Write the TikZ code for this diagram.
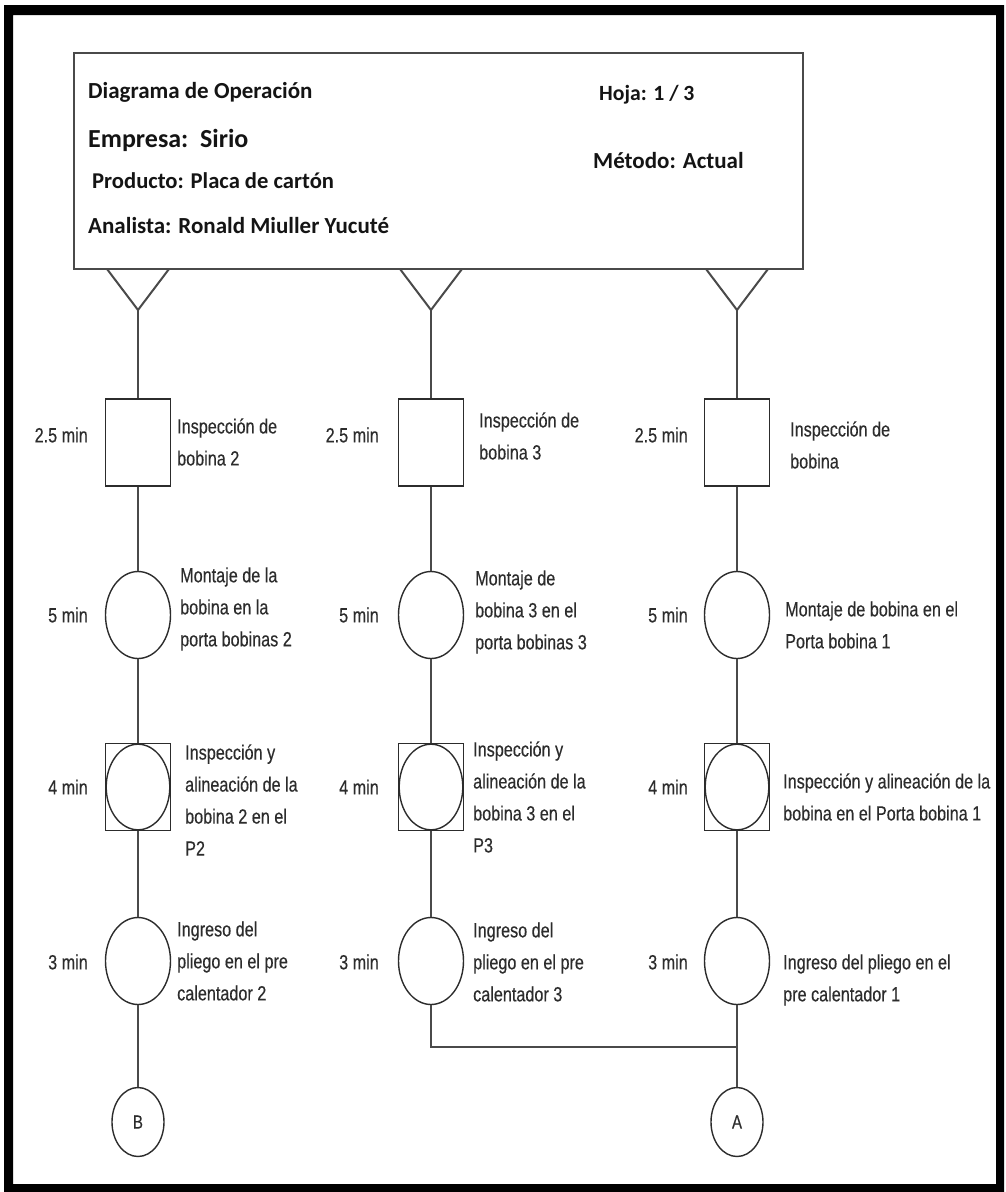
\documentclass[tikz,border=0pt]{standalone}
\usepackage{fontspec}
\setmainfont{Liberation Sans}
\newfontfamily\hdrfont{Carlito}
\newfontfamily\bodyfont[FakeStretch=0.79, FakeBold=0.3]{Liberation Sans}
\usetikzlibrary{shapes.geometric}

\definecolor{ink}{HTML}{2C2C2C}
\definecolor{wirecol}{HTML}{4A4A4A}
\definecolor{hdrink}{HTML}{141414}

\tikzset{
  wire/.style={draw=wirecol, line width=2pt},
  insp/.style={draw=ink, line width=1.6pt, rectangle, fill=white,
    minimum width=65pt, minimum height=87pt, inner sep=0pt},
  oper/.style={draw=ink, line width=1.4pt, ellipse, fill=white,
    minimum width=65pt, minimum height=87pt, inner sep=0pt},
  conn/.style={oper, minimum width=52pt, minimum height=69pt,
    font=\bodyfont\fontsize{19pt}{19pt}\selectfont, text=ink},
  tlabel/.style={anchor=east, inner sep=0pt, text=ink,
    font=\bodyfont\fontsize{20.5pt}{32pt}\selectfont},
  desc/.style={anchor=west, align=left, inner sep=0pt, text=ink,
    font=\bodyfont\fontsize{20.5pt}{32pt}\selectfont},
  hdrtxt/.style={anchor=base west, inner sep=0pt, text=hdrink,
    font=\hdrfont\bfseries\fontsize{23pt}{26pt}\selectfont},
  combo/.style={insp, path picture={
    \draw[ink, line width=1.4pt] (path picture bounding box.center)
      ellipse [x radius=31.8pt, y radius=42.8pt];}}
}

\begin{document}
\begin{tikzpicture}[x=1pt, y=-1pt]
\useasboundingbox (0,0) rectangle (1005,1192);
\fill[white] (0,0) rectangle (1005,1192);

% outer frame
\fill[black, even odd rule] (4,5) rectangle (1004,1192) (13,15) rectangle (996,1184);

% header box
\node[draw=wirecol, line width=2.4pt, minimum width=729pt, minimum height=216pt,
      inner sep=0pt] (hdr) at (438.5,161) {};
\node[hdrtxt] (h1) at (88,98) {Diagrama de Operación};
\node[hdrtxt, font=\hdrfont\bfseries\fontsize{26pt}{28pt}\selectfont] (h2) at (88,147) {Empresa:\hspace{0.45em}Sirio};
\node[hdrtxt, font=\hdrfont\bfseries\fontsize{22.6pt}{26pt}\selectfont] (h3) at (92,188) {Producto: Placa de cartón};
\node[hdrtxt] (h4) at (88,233) {Analista: Ronald Miuller Yucuté};
\node[hdrtxt, font=\hdrfont\bfseries\fontsize{21.7pt}{26pt}\selectfont] (h5) at (599,100) {Hoja: 1 / 3};
\node[hdrtxt] (h6) at (593,168) {Método: Actual};

% storage triangles under the header
\foreach \c/\n in {138/1, 431/2, 737/3}{
  \coordinate (t\n) at (\c,310);
  \draw[wire, line join=miter] (\c-31,269) -- (t\n) -- (\c+31,269);
}

% column 1 (bobina 2)
\node[insp]  (s1) at (138,442.5) {};
\node[oper]  (m1) at (138,615) {};
\node[combo] (k1) at (138,787) {};
\node[oper]  (i1) at (138,961) {};
\node[conn]  (B)  at (138,1122) {B};

% column 2 (bobina 3)
\node[insp]  (s2) at (431,442.5) {};
\node[oper]  (m2) at (431,615) {};
\node[combo] (k2) at (431,787) {};
\node[oper]  (i2) at (431,961) {};

% column 3 (bobina 1)
\node[insp]  (s3) at (737,442.5) {};
\node[oper]  (m3) at (737,615) {};
\node[combo] (k3) at (737,787) {};
\node[oper]  (i3) at (737,961) {};
\node[conn]  (A)  at (737,1122) {A};
\coordinate (jn) at (737,1047);

% connectors
\foreach \n in {1,2,3}{
  \draw[wire] (t\n) -- (s\n.north);
  \draw[wire] (s\n.south) -- (m\n.north);
  \draw[wire] (m\n.south) -- (k\n.north);
  \draw[wire] (k\n.south) -- (i\n.north);
}
\draw[wire] (i1.south) -- (B.north);
\draw[wire] (i2.south) |- (jn);
\draw[wire] (i3.south) -- (A.north);

% times
\foreach \c/\n in {88/1, 379/2, 688/3}{
  \node[tlabel] (ts\n) at (\c,435) {2.5 min};
  \node[tlabel] (tm\n) at (\c,615) {5 min};
  \node[tlabel] (tk\n) at (\c,787) {4 min};
  \node[tlabel] (ti\n) at (\c,962) {3 min};
}

% descriptions, column 1
\node[desc] (ds1) at (177,442) {Inspección de\\bobina 2};
\node[desc] (dm1) at (180,609) {Montaje de la\\bobina en la\\porta bobinas 2};
\node[desc] (dk1) at (185,800) {Inspección y\\alineación de la\\bobina 2 en el\\P2};
\node[desc] (di1) at (177,961) {Ingreso del\\pliego en el pre\\calentador 2};

% descriptions, column 2
\node[desc] (ds2) at (479,436) {Inspección de\\bobina 3};
\node[desc] (dm2) at (475,612) {Montaje de\\bobina 3 en el\\porta bobinas 3};
\node[desc] (dk2) at (473,797) {Inspección y\\alineación de la\\bobina 3 en el\\P3};
\node[desc] (di2) at (473,962) {Ingreso del\\pliego en el pre\\calentador 3};

% descriptions, column 3
\node[desc] (ds3) at (790,445) {Inspección de\\bobina};
\node[desc] (dm3) at (785,625) {Montaje de bobina en el\\Porta bobina 1};
\node[desc] (dk3) at (783,797) {Inspección y alineación de la\\bobina en el Porta bobina 1};
\node[desc] (di3) at (783,980) {Ingreso del pliego en el\\pre calentador 1};
\end{tikzpicture}
\end{document}
